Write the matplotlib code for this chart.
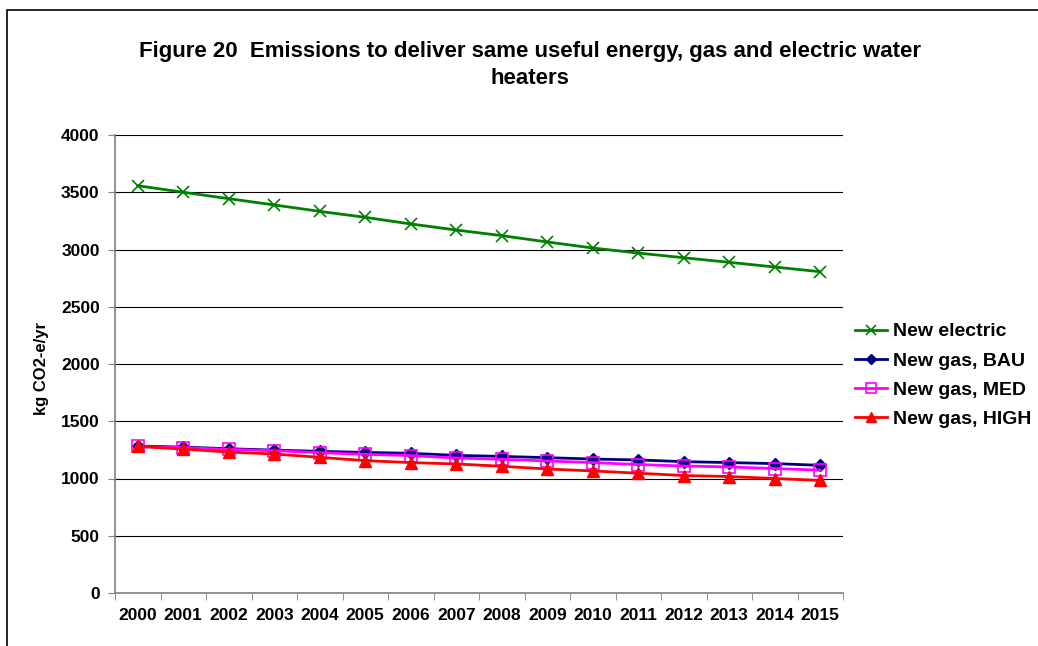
import numpy as np
import matplotlib.pyplot as plt
from matplotlib.patches import Rectangle

plt.rcParams['font.family'] = ['Liberation Sans', 'DejaVu Sans']
plt.rcParams['font.weight'] = 'bold'

years = [str(y) for y in range(2000, 2016)]
new_electric = [3557, 3500, 3444, 3389, 3333, 3281, 3223, 3170, 3121, 3066, 3013, 2969, 2928, 2888, 2847, 2806]
gas_bau = [1284, 1274, 1260, 1248, 1237, 1228, 1220, 1202, 1193, 1182, 1170, 1162, 1147, 1139, 1130, 1115]
gas_med = [1280, 1269, 1254, 1243, 1226, 1211, 1200, 1179, 1168, 1153, 1139, 1122, 1109, 1101, 1087, 1073]
gas_high = [1280, 1257, 1231, 1214, 1185, 1156, 1139, 1127, 1107, 1083, 1066, 1046, 1026, 1017, 1000, 983]

fig = plt.figure(figsize=(10.38, 6.46), dpi=100)
# outer chart frame
fig.patches.append(Rectangle((7 / 1038, -0.1), 1.2, 1 - 10 / 646 + 0.1, transform=fig.transFigure,
                             fill=False, edgecolor='black', lw=1.2))
ax = fig.add_axes([115 / 1038, 1 - 593 / 646, 728 / 1038, 458 / 646])

x = np.arange(len(years))
ax.plot(x, new_electric, color='#008000', lw=2, marker='x', ms=8, mew=1.2, label='New electric')
ax.plot(x, gas_bau, color='#000080', lw=2, marker='D', ms=6, label='New gas, BAU')
ax.plot(x, gas_med, color='#ff00ff', lw=2, marker='s', ms=8, mfc='none', mec='#ff00ff', mew=1.2,
        label='New gas, MED')
ax.plot(x, gas_high, color='#ff0000', lw=2, marker='^', ms=8, label='New gas, HIGH')

ax.set_xlim(-0.5, len(years) - 0.5)
ax.set_ylim(0, 4000)
ax.set_yticks(np.arange(0, 4001, 500))
ax.yaxis.grid(True, color='black', lw=0.8)
ax.set_axisbelow(True)
ax.set_xticks(x)
ax.set_xticklabels(years)
ax.set_xticks(np.arange(-0.5, len(years), 1), minor=True)
ax.tick_params(axis='x', which='major', length=0, pad=11, labelsize=12.5)
ax.tick_params(axis='x', which='minor', length=5, color='#808080', direction='out')
ax.tick_params(axis='y', length=5, color='#808080', labelsize=12.5, pad=6)
for lbl in ax.get_xticklabels() + ax.get_yticklabels():
    lbl.set_fontweight('bold')
for s in ['top', 'right']:
    ax.spines[s].set_visible(False)
for s in ['left', 'bottom']:
    ax.spines[s].set_color('#808080')
    ax.spines[s].set_linewidth(1.2)

ax.set_ylabel('kg CO2-e/yr', fontsize=12, fontweight='bold')
ax.yaxis.set_label_coords(-0.09, 0.49)
fig.text(530 / 1038, 1 - 65 / 646, 'Figure 20  Emissions to deliver same useful energy, gas and electric water\nheaters',
         ha='center', va='center', fontsize=16, fontweight='bold', linespacing=1.4)

ax.legend(loc='center left', bbox_to_anchor=(1.0, 0.475), frameon=False, prop={'size': 14, 'weight': 'bold'},
          handlelength=1.65, handletextpad=0.3, labelspacing=0.6, borderaxespad=0.2, markerscale=0.9)

fig.savefig('out.png', dpi=100)
